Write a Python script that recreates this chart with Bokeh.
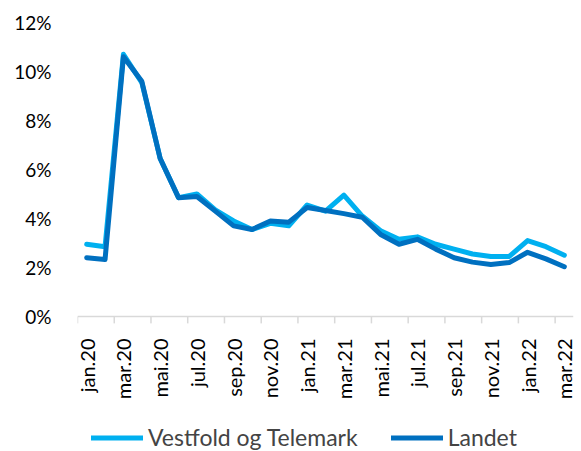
from bokeh.plotting import figure
from bokeh.layouts import column
from bokeh.models import (FixedTicker, PrintfTickFormatter, Legend, LegendItem, Range1d)
from bokeh.embed import file_html
from bokeh.resources import INLINE

months = ["jan.20", "feb.20", "mar.20", "apr.20", "mai.20", "jun.20", "jul.20", "aug.20",
          "sep.20", "okt.20", "nov.20", "des.20", "jan.21", "feb.21", "mar.21", "apr.21",
          "mai.21", "jun.21", "jul.21", "aug.21", "sep.21", "okt.21", "nov.21", "des.21",
          "jan.22", "feb.22", "mar.22"]
vestfold = [2.95, 2.85, 10.7, 9.55, 6.45, 4.85, 5.0, 4.35, 3.9, 3.55, 3.8, 3.7,
            4.55, 4.3, 4.95, 4.1, 3.5, 3.15, 3.25, 2.95, 2.75, 2.55, 2.45, 2.45,
            3.1, 2.85, 2.5]
landet = [2.4, 2.33, 10.6, 9.6, 6.45, 4.85, 4.9, 4.3, 3.7, 3.55, 3.9, 3.85,
          4.45, 4.33, 4.2, 4.05, 3.35, 2.95, 3.15, 2.75, 2.4, 2.22, 2.12, 2.2,
          2.62, 2.35, 2.03]
y_ticks = [0, 2, 4, 6, 8, 10, 12]
series_names = ["Vestfold og Telemark", "Landet"]
colors = ["#00B0F0", "#0070C0"]

FONT = "Lato"
x = list(range(len(months)))
n = len(months)

p = figure(width=581, height=405, output_backend="svg", toolbar_location=None,
           x_range=Range1d(-0.5, n - 0.5), y_range=Range1d(-0.286, 12),
           min_border_left=77, min_border_right=8, min_border_top=22, min_border_bottom=82)
p.outline_line_color = None
p.xgrid.grid_line_color = None
p.ygrid.grid_line_color = None

# axis baseline + boundary tick marks
bounds = [i - 0.5 for i in range(0, n + 1, 2)]
p.line([-0.5, n - 0.5], [0, 0], line_color="#D9D9D9", line_width=1.5)
p.segment(x0=bounds, y0=[0] * len(bounds), x1=bounds, y1=[-0.3] * len(bounds),
          line_color="#D9D9D9", line_width=1.5)

p.line(x, vestfold, line_color=colors[0], line_width=5, line_join="round", line_cap="round")
p.line(x, landet, line_color=colors[1], line_width=5, line_join="round", line_cap="round")

xa = p.xaxis[0]
xa.ticker = FixedTicker(ticks=list(range(0, n, 2)))
xa.major_label_overrides = {i: months[i] for i in range(0, n, 2)}
xa.major_label_orientation = 3.14159265 / 2
xa.axis_line_color = None
xa.major_tick_line_color = None
xa.minor_tick_line_color = None
xa.major_label_standoff = 9
xa.major_label_text_font = FONT
xa.major_label_text_font_size = "20px"
xa.major_label_text_color = "#000000"

ya = p.yaxis[0]
ya.ticker = FixedTicker(ticks=y_ticks)
ya.formatter = PrintfTickFormatter(format="%d%%")
ya.axis_line_color = None
ya.major_tick_line_color = None
ya.minor_tick_line_color = None
ya.major_label_standoff = 20
ya.major_label_text_font = FONT
ya.major_label_text_font_size = "19px"
ya.major_label_text_color = "#000000"

# legend strip below
lp = figure(width=581, height=46, output_backend="svg", toolbar_location=None,
            x_range=Range1d(0, 1), y_range=Range1d(0, 1),
            min_border=0, min_border_left=0, min_border_right=0,
            min_border_top=0, min_border_bottom=0)
lp.axis.visible = False
lp.grid.visible = False
lp.outline_line_color = None
items = []
for name, c in zip(series_names, colors):
    r = lp.line([-5, -4], [-5, -4], line_color=c, line_width=5, line_cap="round")
    items.append(LegendItem(label=name, renderers=[r]))
legend = Legend(items=items, orientation="horizontal", location=(14, 0),
                label_text_font=FONT, label_text_font_size="23px",
                glyph_width=52, glyph_height=23, label_height=23, label_standoff=5,
                spacing=33, padding=0, margin=0, border_line_color=None,
                background_fill_alpha=0)
lp.add_layout(legend, "center")

open("out.html", "w").write(file_html(column(p, lp, spacing=0), INLINE))
